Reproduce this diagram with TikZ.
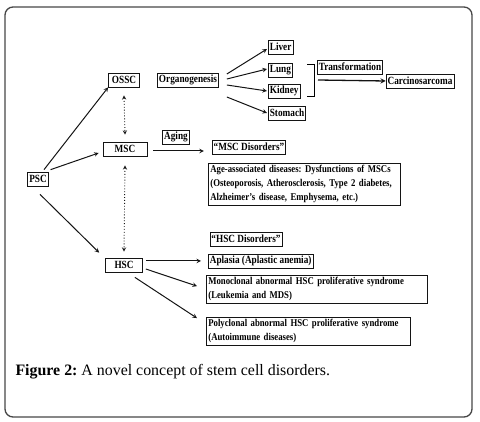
\documentclass[tikz,border=0pt]{standalone}
\usepackage{fontspec}
\setmainfont{Liberation Serif}
\newfontfamily\boxfont[FakeStretch=0.84,BoldFeatures={FakeStretch=0.84}]{Liberation Serif}
\usetikzlibrary{arrows.meta,positioning,calc}
\definecolor{frameGray}{RGB}{70,70,70}
\definecolor{inkBlack}{RGB}{20,20,20}
\frenchspacing
\tikzset{
  cellbox/.style={
    rectangle, draw=inkBlack, line width=0.7pt, inner sep=1.5pt,
    minimum height=14pt, font=\boxfont\fontsize{11}{12}\selectfont\bfseries
  },
  disbox/.style={
    cellbox, align=left, inner sep=2pt,
    font=\boxfont\fontsize{10.4}{14}\selectfont\bfseries
  },
  arr/.style={->, line width=1pt, >=stealth, draw=inkBlack},
  dotarr/.style={<->, line width=0.9pt, dotted, >=stealth, draw=inkBlack}
}

\begin{document}
\begin{tikzpicture}[x=1pt, y=-1pt]
  \useasboundingbox (0,0) rectangle (480,422);
  \draw[frameGray, line width=1.3pt, rounded corners=8pt] (5,7) rectangle (472,417);

  % stem cells
  \node[cellbox] (psc) at (38,179) {PSC};
  \node[cellbox, minimum width=31pt] (ossc) at (124,80) {OSSC};
  \node[cellbox, minimum width=44pt] (msc) at (125,149) {MSC};
  \node[cellbox, minimum width=37pt] (hsc) at (124,265) {HSC};
  \draw[arr] (psc.north) ++(6,-2) coordinate (p1) -- (ossc.south west);
  \draw[arr] ($(psc.north east)+(2,-2)$) coordinate (p2) -- ($(msc.west)+(-4,4)$) coordinate (m1);
  \draw[arr] ($(psc.south)+(2,8)$) coordinate (p3) -- ($(hsc.north west)+(-6,-5)$) coordinate (h1);
  \draw[dotarr] ($(ossc.south)+(0,8)$) coordinate (o2) -- ($(msc.north)+(0,-7)$) coordinate (m2);
  \draw[dotarr] ($(msc.south)+(0,9)$) coordinate (m3) -- ($(hsc.north)+(0,-6)$) coordinate (h2);

  % organogenesis branch
  \node[cellbox] (organ) at (188,80) {Organogenesis};
  \node[cellbox, anchor=west] (liver) at (268,47) {Liver};
  \node[cellbox, anchor=west] (lung) at (268,70) {Lung};
  \node[cellbox, anchor=west] (kidney) at (268,91) {Kidney};
  \node[cellbox, anchor=west] (stomach) at (268,113) {Stomach};
  \draw[arr] ($(organ.east)+(8,-6)$) coordinate (g1) -- ($(liver.west)+(-1,2)$);
  \draw[arr] ($(organ.east)+(8,-1)$) coordinate (g2) -- ($(lung.west)+(-1,-1)$);
  \draw[arr] ($(organ.east)+(8,5)$) coordinate (g3) -- ($(kidney.west)+(-1,0)$);
  \draw[arr] ($(organ.east)+(8,17)$) coordinate (g4) -- ($(stomach.west)+(-1,0)$);
  \draw[line width=0.7pt] (307,64) -- (314,64) -- (314,96) -- (307,96);
  \node[cellbox] (transf) at (350,67) {Transformation};
  \node[cellbox] (carcino) at (420,81) {Carcinosarcoma};
  \coordinate (tstart) at (318,80);
  \draw[arr, line width=1.3pt] (tstart) -- (carcino.west);

  % MSC disorders
  \node[cellbox] (aging) at (176,137) {Aging};
  \node[cellbox] (mscdis) at (249,147) {“MSC Disorders”};
  \draw[arr] ($(msc.east)+(6,2)$) coordinate (m4) -- ($(mscdis.west)+(-8,4)$);
  \node[disbox, anchor=north west, text width=188pt] (agedis) at (208,163)
    {Age-associated diseases: Dysfunctions of MSCs\\
     (Osteoporosis, Atherosclerosis, Type 2 diabetes,\\
     Alzheimer’s disease, Emphysema, etc.)};

  % HSC disorders
  \node[cellbox] (hscdis) at (246,239) {“HSC Disorders”};
  \node[cellbox, anchor=west] (aplasia) at (208,261) {Aplasia (Aplastic anemia)};
  \node[disbox, anchor=north west, text width=217pt] (mono) at (206,275)
    {Monoclonal abnormal HSC proliferative syndrome\\
     (Leukemia and MDS)};
  \node[disbox, anchor=north west, text width=200pt] (poly) at (206,317)
    {Polyclonal abnormal HSC proliferative syndrome\\
     (Autoimmune diseases)};
  \draw[arr] ($(hsc.east)+(3,-4)$) coordinate (h3) -- ($(aplasia.west)+(-7,0)$);
  \draw[arr] ($(hsc.east)+(3,4)$) coordinate (h4) -- ($(mono.west)+(-9,-3)$);
  \draw[arr] ($(hsc.south east)+(-8,5)$) coordinate (h5) -- ($(poly.west)+(-9,-13)$);

  \node[anchor=west, font=\fontsize{15.9}{18}\selectfont] (caption) at (12,372)
    {\textbf{Figure 2:} A novel concept of stem cell disorders.};
\end{tikzpicture}
\end{document}
